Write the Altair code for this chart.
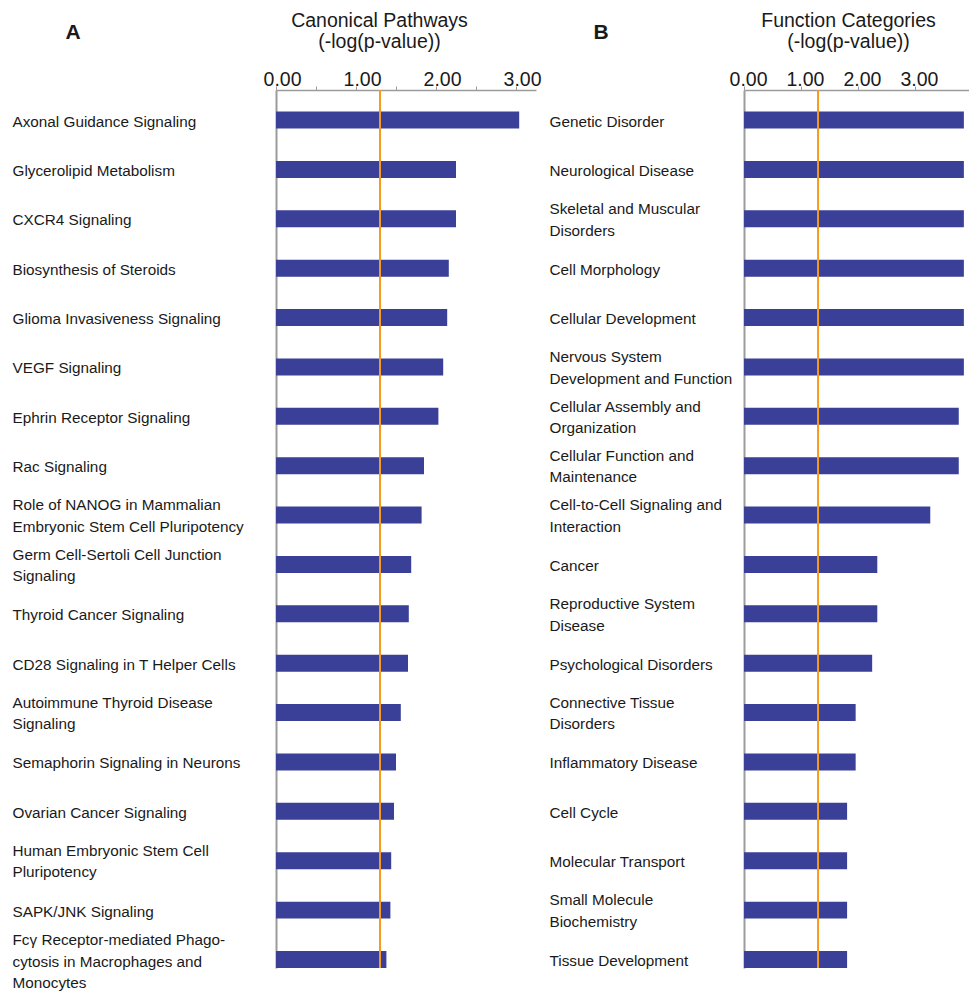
import altair as alt
import pandas as pd

# ---------------- data ----------------
pathways = [
    "Axonal Guidance Signaling",
    "Glycerolipid Metabolism",
    "CXCR4 Signaling",
    "Biosynthesis of Steroids",
    "Glioma Invasiveness Signaling",
    "VEGF Signaling",
    "Ephrin Receptor Signaling",
    "Rac Signaling",
    "Role of NANOG in Mammalian\nEmbryonic Stem Cell Pluripotency",
    "Germ Cell-Sertoli Cell Junction\nSignaling",
    "Thyroid Cancer Signaling",
    "CD28 Signaling in T Helper Cells",
    "Autoimmune Thyroid Disease\nSignaling",
    "Semaphorin Signaling in Neurons",
    "Ovarian Cancer Signaling",
    "Human Embryonic Stem Cell\nPluripotency",
    "SAPK/JNK Signaling",
    "Fcγ Receptor-mediated Phago-\ncytosis in Macrophages and\nMonocytes",
]
pathway_values = [3.04, 2.25, 2.25, 2.16, 2.14, 2.09, 2.03, 1.85, 1.82,
                  1.69, 1.66, 1.65, 1.56, 1.50, 1.475, 1.44, 1.43, 1.38]

functions = [
    "Genetic Disorder",
    "Neurological Disease",
    "Skeletal and Muscular\nDisorders",
    "Cell Morphology",
    "Cellular Development",
    "Nervous System\nDevelopment and Function",
    "Cellular Assembly and\nOrganization",
    "Cellular Function and\nMaintenance",
    "Cell-to-Cell Signaling and\nInteraction",
    "Cancer",
    "Reproductive System\nDisease",
    "Psychological Disorders",
    "Connective Tissue\nDisorders",
    "Inflammatory Disease",
    "Cell Cycle",
    "Molecular Transport",
    "Small Molecule\nBiochemistry",
    "Tissue Development",
]
function_values = [3.86, 3.86, 3.86, 3.86, 3.86, 3.86, 3.77, 3.77, 3.27,
                   2.34, 2.34, 2.25, 1.96, 1.96, 1.81, 1.81, 1.81, 1.81]

threshold = [1.3]
ticks_a = [0, 0.25, 0.5, 0.75, 1, 1.25, 1.5, 1.75, 2, 2.25, 2.5, 2.75, 3, 3.25]
ticks_b = [0, 0.25, 0.5, 0.75, 1, 1.25, 1.5, 1.75, 2, 2.25, 2.5, 2.75, 3, 3.25, 3.5, 3.75]

# ---------------- style ----------------
BAR = "#3a3f98"
ORANGE = "#f39c20"
GRAY = "#9c9c9c"
TEXT = "#1a1a1a"
SANS = "Liberation Sans, Arial, sans-serif"
LH = 21.5

# shift multi-line labels up so that the block is centred on its bar
LABEL_SHIFT = {
    "condition": [
        {"test": "length(split(datum.value, '\\n')) == 2", "value": -LH / 2 + 1},
        {"test": "length(split(datum.value, '\\n')) == 3", "value": -LH + 2},
    ],
    "value": 1.5,
}


def panel(cats, vals, title_lines, letter, letter_dx, domain_max, width,
          label_pad, title_x, ticks, tick_label_offset):
    df = pd.DataFrame({"category": cats, "value": vals})
    y = alt.Y(
        "category:N",
        sort=cats,
        scale=alt.Scale(paddingInner=0.656, paddingOuter=0.218, align=1),
        axis=alt.Axis(
            title=None, labelAlign="left", labelPadding=label_pad,
            ticks=False, tickSize=0, domainColor=GRAY, domainWidth=2,
            labelExpr="split(datum.label, '\\n')", labelLineHeight=LH,
            labelOffset=LABEL_SHIFT,
            labelFont=SANS, labelFontSize=15.3, labelColor=TEXT,
            labelLimit=400, labelBaseline="middle", grid=False,
        ),
    )
    x = alt.X(
        "value:Q",
        scale=alt.Scale(domain=[0, domain_max], nice=False, zero=True),
        axis=alt.Axis(
            orient="top", values=ticks,
            labelExpr="(datum.value % 1 === 0 && datum.value <= 3) ? format(datum.value, '.2f') : ''",
            labelFont=SANS, labelFontSize=19.5, labelColor=TEXT,
            labelPadding=-3, labelOffset=tick_label_offset, labelFlush=False,
            labelOverlap=False,
            tickSize=4, tickColor=GRAY, tickWidth=1,
            domainColor=GRAY, domainWidth=1.5, grid=False,
            title=title_lines, titleFont=SANS, titleFontSize=19.5,
            titleFontWeight="normal", titleColor=TEXT, titleLineHeight=21.5,
            titleX=title_x, titleY=-79, titleAlign="center",
            titleBaseline="top", titleAngle=0,
        ),
    )
    bars = alt.Chart(df).mark_bar(color=BAR).encode(x=x, y=y)
    rule = alt.Chart(pd.DataFrame({"t": threshold})).mark_rule(
        color=ORANGE, strokeWidth=2
    ).encode(x=alt.X("t:Q"))
    lab = alt.Chart(pd.DataFrame({"letter": [letter]})).mark_text(
        font=SANS, fontSize=21, fontWeight="bold", color=TEXT,
        align="center", baseline="middle",
    ).encode(text="letter:N", x=alt.value(letter_dx), y=alt.value(-57))
    return alt.layer(bars, rule, lab).properties(width=width, height=878)


left = panel(pathways, pathway_values, ["Canonical Pathways", "(-log(p-value))"],
             "A", 73 - 276, 3.25, 260, 264, 103, ticks_a, 6)
right = panel(functions, function_values, ["Function Categories", "(-log(p-value))"],
              "B", 601 - 744, 3.95, 225, 195, 104, ticks_b, 4)

chart = alt.hconcat(left, right, spacing=8).properties(
    padding={"left": 12, "top": 10, "right": 0, "bottom": 0},
    background="white",
).configure_view(stroke=None)

chart.save("out.html", embed_options={"renderer": "svg", "actions": False})
